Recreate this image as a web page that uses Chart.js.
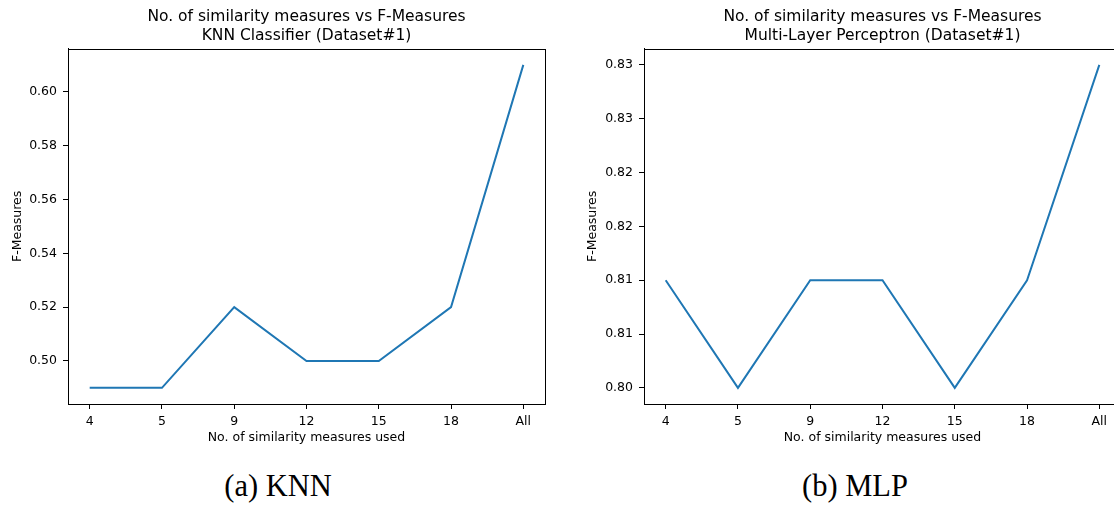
<!DOCTYPE html>
<html>
<head>
<meta charset="utf-8">
<script src="https://cdn.jsdelivr.net/npm/chart.js@4.4.1/dist/chart.umd.min.js"></script>
<style>
  html, body { margin: 0; padding: 0; background: #fff; overflow: hidden; }
  body { width: 1114px; height: 505px; position: relative; overflow: hidden; }
  canvas { position: absolute; top: 0; }
  #c1 { left: 0; }
  #c2 { left: 557px; }
  .cap { position: absolute; top: 469px; line-height: normal; font-family: "Liberation Serif", serif; font-size: 30.5px; color: #000; transform: translateX(-50%); white-space: nowrap; }
</style>
</head>
<body>
<canvas id="c1" width="557" height="460"></canvas>
<canvas id="c2" width="577" height="460"></canvas>
<div class="cap" style="left:278px">(a) KNN</div>
<div class="cap" style="left:855px">(b) MLP</div>
<script>
const xLabels = ['4', '5', '9', '12', '15', '18', 'All'];
const knnValues = [0.49, 0.49, 0.52, 0.50, 0.50, 0.52, 0.61];
const mlpValues = [0.81, 0.80, 0.81, 0.81, 0.80, 0.81, 0.83];
const knnTicks = [0.50, 0.52, 0.54, 0.56, 0.58, 0.60];
const knnTickLabels = ['0.50', '0.52', '0.54', '0.56', '0.58', '0.60'];
const mlpTicks = [0.800, 0.805, 0.810, 0.815, 0.820, 0.825, 0.830];
const mlpTickLabels = ['0.80', '0.81', '0.81', '0.82', '0.82', '0.83', '0.83'];
const knnTitle = ['No. of similarity measures vs F-Measures', 'KNN Classifier (Dataset#1)'];
const mlpTitle = ['No. of similarity measures vs F-Measures', 'Multi-Layer Perceptron (Dataset#1)'];
const xAxisTitle = 'No. of similarity measures used';
const yAxisTitle = 'F-Measures';

Chart.defaults.font.family = '"DejaVu Sans", sans-serif';
Chart.defaults.color = '#000';

const framePlugin = {
  id: 'frame',
  afterDatasetsDraw(chart) {
    const a = chart.chartArea, ctx = chart.ctx;
    ctx.save();
    ctx.strokeStyle = '#000';
    ctx.lineWidth = 1;
    ctx.strokeRect(Math.round(a.left) + 0.5, Math.round(a.top) + 0.5, Math.round(a.right - a.left), Math.round(a.bottom - a.top));
    ctx.restore();
  }
};

function makeChart(id, values, yTicks, yTickLabels, title, yWidth, yTitlePad, padRight) {
  const yMin = Math.min(...values), yMax = Math.max(...values);
  const m = (yMax - yMin) * 0.05;
  const n = xLabels.length - 1;
  return new Chart(document.getElementById(id), {
    type: 'line',
    data: {
      datasets: [{
        data: values.map((v, i) => ({ x: i, y: v })),
        borderColor: '#1f77b4',
        borderWidth: 2,
        pointRadius: 0,
        tension: 0,
        fill: false
      }]
    },
    options: {
      responsive: false,
      animation: false,
      devicePixelRatio: 1,
      layout: { padding: { left: 0, right: padRight, top: 0, bottom: 0 } },
      plugins: {
        legend: { display: false },
        tooltip: { enabled: false },
        title: {
          display: true,
          fullSize: false,
          text: title,
          font: { size: 15.5, weight: 'normal', lineHeight: 1.25 },
          color: '#000',
          padding: { top: 7, bottom: 3 }
        }
      },
      scales: {
        x: {
          type: 'linear',
          min: -n * 0.05,
          max: n * 1.05,
          afterBuildTicks: s => { s.ticks = xLabels.map((_, i) => ({ value: i })); },
          afterFit: s => { s.height = 56; },
          ticks: {
            callback: (v) => xLabels[v],
            font: { size: 12.5 },
            color: '#000',
            padding: 5,
            maxRotation: 0,
            autoSkip: false
          },
          grid: { display: true, drawOnChartArea: false, drawTicks: true, tickLength: 5, tickColor: '#000', tickWidth: 1 },
          border: { display: true, color: '#000', width: 1 },
          title: { display: true, text: xAxisTitle, font: { size: 12.5 }, color: '#000', padding: { top: 0, bottom: 15 } }
        },
        y: {
          type: 'linear',
          min: yMin - m,
          max: yMax + m,
          afterBuildTicks: s => { s.ticks = yTicks.map(v => ({ value: v })); },
          afterFit: s => { s.width = yWidth; },
          ticks: {
            callback: (v, i) => yTickLabels[i],
            font: { size: 12.5 },
            color: '#000',
            padding: 6,
            autoSkip: false
          },
          grid: { display: true, drawOnChartArea: false, drawTicks: true, tickLength: 5, tickColor: '#000', tickWidth: 1 },
          border: { display: true, color: '#000', width: 1 },
          title: { display: true, text: yAxisTitle, font: { size: 12.5 }, color: '#000', padding: { top: yTitlePad, bottom: 0 } }
        }
      }
    },
    plugins: [framePlugin]
  });
}

makeChart('c1', knnValues, knnTicks, knnTickLabels, knnTitle, 68, 10.5, 12);
makeChart('c2', mlpValues, mlpTicks, mlpTickLabels, mlpTitle, 87, 28.5, 13);
</script>
</body>
</html>
